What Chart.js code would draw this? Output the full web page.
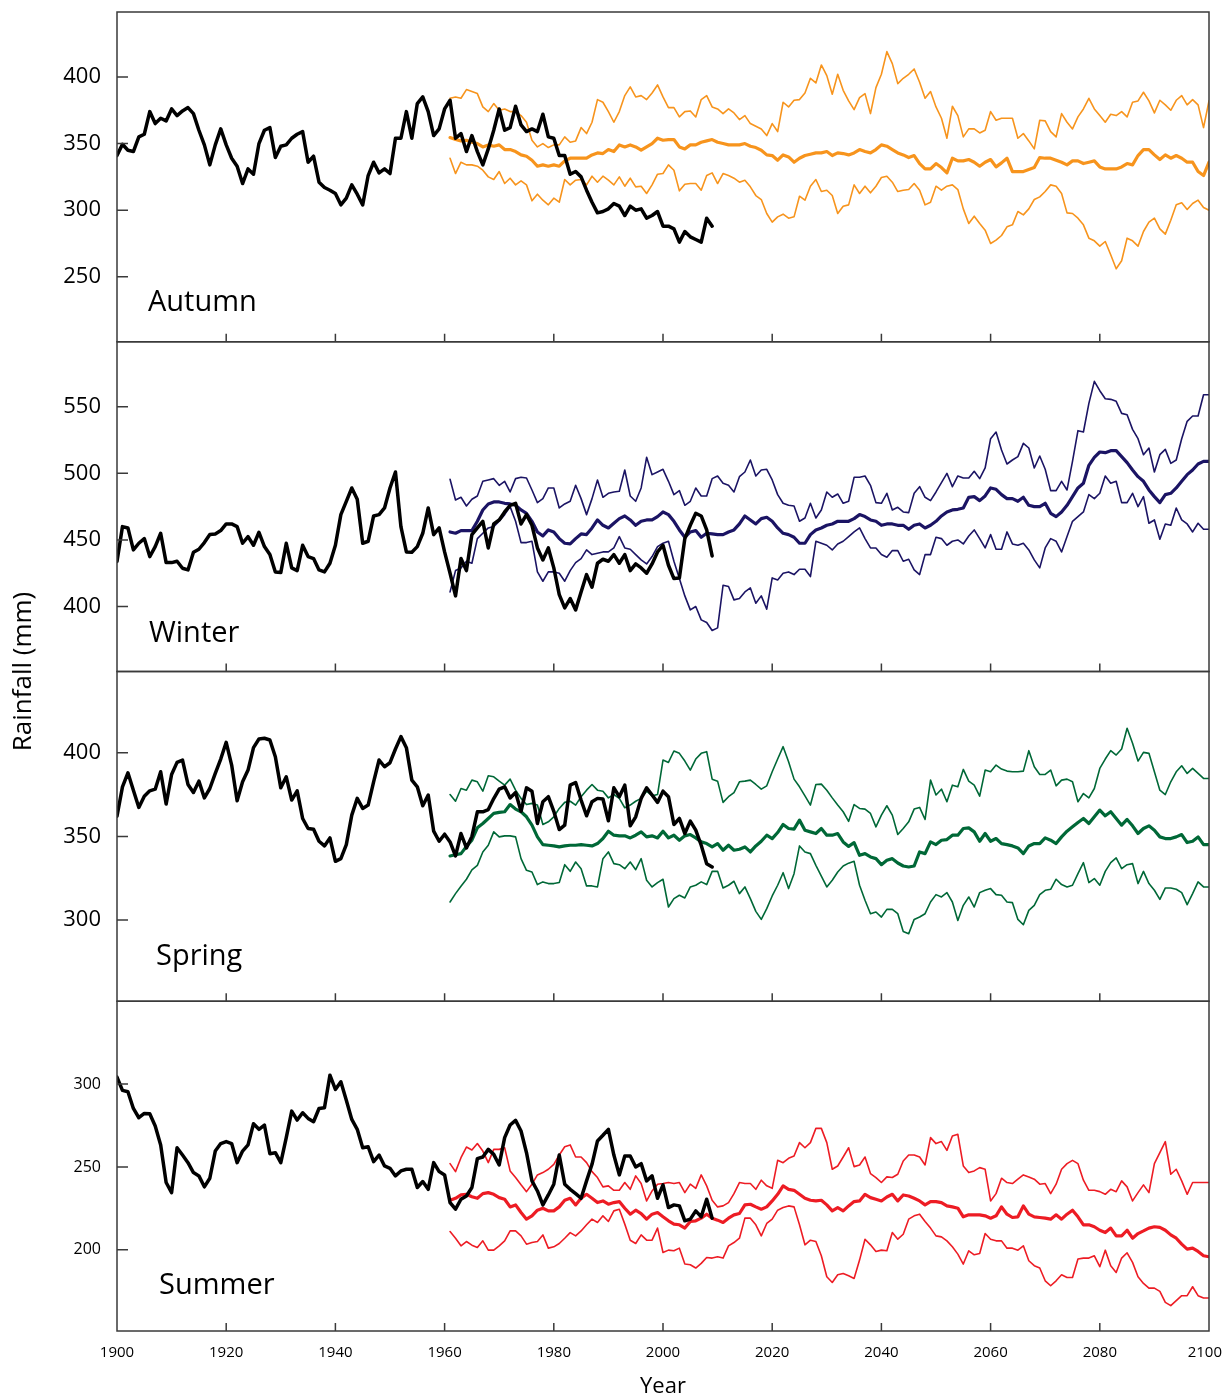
<!DOCTYPE html>
<html>
<head>
<meta charset="utf-8">
<script src="https://cdn.jsdelivr.net/npm/chart.js@4.4.1/dist/chart.umd.min.js"></script>
<style>
  html, body { margin: 0; padding: 0; background: #fff; }
  canvas { display: block; }
</style>
</head>
<body>
<canvas id="rainfall" width="1224" height="1398"></canvas>
<script>
// Seasonal rainfall: observed record (black) and projected range (low / median / high)
const OBS_FIRST_YEAR = 1900;
const PROJ_FIRST_YEAR = 1961;

// ---- Autumn ----
const autumnTicks = [250, 300, 350, 400];
const autumnObs = [
  341, 349.5, 345, 344, 355, 357, 374, 365, 369, 367,
  376, 371, 374.5, 377, 372.5, 360, 349, 334, 349, 361,
  349, 339, 333, 320, 331, 327, 350, 360, 362, 339.5,
  348, 349, 354, 357, 359, 336, 340.5, 321, 317, 315,
  312.5, 304, 309, 319, 312, 304, 326, 336, 328, 331,
  327.5, 354, 354, 374, 354, 380, 385, 374, 356, 361,
  376, 382.5, 354, 357.5, 344, 356, 344, 334, 346, 360,
  376, 360, 362, 378, 364, 359, 361, 359, 372, 355,
  354, 341, 341, 327, 329, 325, 315, 306, 298, 299,
  301, 305, 303, 296, 303, 300, 301, 294, 296, 299,
  288, 288, 286, 276, 284, 280, 278, 276, 294, 288
];
const autumnHigh = [
  384, 385, 384, 390.5, 389, 387.5, 377.5, 374, 380,
  375, 376, 374, 374, 371, 366, 352.5, 347.5, 350, 347,
  349, 349, 355, 351, 352, 362, 357.5, 366, 383, 381,
  374, 366, 374, 386, 392.5, 385, 386, 383, 388, 394,
  385, 377, 377, 370, 374, 374.5, 370, 383, 386, 377.5,
  376, 372.5, 376, 373, 368, 371, 365, 363, 361, 356,
  365, 359, 381, 377.5, 382.5, 383, 388, 399, 395.5, 409,
  401, 387, 402, 390, 382, 375.5, 384.5, 387.5, 372.5, 392,
  402, 419, 410, 395, 399, 402, 406, 396, 384, 389,
  377.5, 369, 354, 378, 371, 355, 361, 361, 358, 360,
  374, 367.5, 369, 369, 369, 354, 357.5, 352, 346, 367.5,
  367, 359, 355, 372.5, 366, 361, 370, 376, 384, 376,
  371, 366, 372, 371, 374, 370, 381, 382, 388.5, 382,
  373, 382.5, 379, 375, 382.5, 386, 379, 383, 379, 362,
  382
];
const autumnMid = [
  354.5, 353, 352, 352.5, 351, 350, 347.5, 349, 348,
  349, 345.5, 345.5, 344, 341.5, 340.5, 337.5, 333, 334, 333,
  334, 333, 337, 339, 339, 339, 339, 341.5, 343, 342.5,
  345.5, 344, 349, 347.5, 349, 347.5, 345, 347.5, 350, 354,
  352.5, 353, 353, 347.5, 346, 349, 349, 351, 352, 353,
  351, 350, 349, 349, 349, 350, 348, 347, 345, 341.5,
  341, 337.5, 341.5, 340, 336, 339, 341, 342, 343, 343,
  344, 341, 343, 342.5, 341.5, 343, 345.5, 344, 343, 345.5,
  349, 348, 345.5, 343, 341.5, 339.5, 341, 335, 331, 331,
  335, 332, 328, 339, 337, 337, 338, 336, 333, 336,
  338, 332.5, 335.5, 339, 329, 329, 329, 330.5, 332, 339.5,
  339, 339, 337.5, 336, 334, 337, 337, 335, 336, 337,
  332.5, 331, 331, 331, 332.5, 335, 334, 341, 345.5, 345.5,
  341.5, 338, 341.5, 339, 341, 339, 336, 336, 329, 326,
  336
];
const autumnLow = [
  339, 327.5, 336, 334, 334, 333, 330, 325, 323,
  329, 320, 324, 319, 322, 319, 307, 312, 307.5, 304,
  309, 306, 323, 319, 322.5, 323, 319, 325.5, 321, 325.5,
  322.5, 319, 325, 318, 324, 317.5, 318, 312.5, 319, 327,
  327.5, 334, 330, 314.5, 319.5, 320, 320, 315, 326, 328,
  320, 327.5, 326, 324, 321, 322.5, 317.5, 311, 308, 297.5,
  291, 295, 297, 294, 295, 310.5, 307.5, 318, 323, 314,
  315, 311, 297.5, 303, 304, 319, 312.5, 318, 313, 318,
  324.5, 325.5, 321, 314, 315, 315.5, 320, 315, 304, 306,
  318, 315, 318, 319, 315.5, 301, 290, 295.5, 290, 285,
  275, 277.5, 281, 287.5, 289, 299, 296.5, 301, 308, 310,
  314, 319, 318, 312.5, 298, 297.5, 294, 289, 279, 277,
  273, 276.5, 266.5, 256, 262, 279, 277, 273, 284, 291,
  294, 286, 282, 292.5, 304, 305.5, 300.5, 305, 307.5, 302,
  300
];

// ---- Winter ----
const winterTicks = [400, 450, 500, 550];
const winterObs = [
  433.75, 460, 459, 442.5, 447.5, 451, 437.5, 445, 455, 433,
  433, 434, 428.75, 427.5, 440.75, 443, 448, 454, 454.5, 457,
  462, 462, 460, 447.5, 452.5, 446, 455.75, 445, 439, 426,
  425.5, 447.5, 429, 427, 446, 437.5, 436, 427.5, 426, 432.5,
  446, 469, 479, 489, 480.5, 447.5, 449, 468, 469, 474,
  489, 501, 460, 441, 440.75, 445, 455, 474, 454, 459,
  441, 425, 408, 436, 427, 454, 459, 464, 444, 462,
  465, 471, 476, 477.5, 462, 469, 461, 444, 435, 444,
  429, 409, 399, 406, 397.5, 411, 424, 414.5, 432.5, 435.5,
  434, 439, 432.5, 439, 427, 432, 429, 425, 432, 441,
  446, 431, 421, 421.5, 451, 461, 470, 468, 457.5, 438
];
const winterHigh = [
  495.5, 480, 482, 475.5, 480.5, 483, 494, 495, 496,
  491, 494, 486, 496, 497, 496.5, 487.5, 478, 481, 489,
  489, 474, 477, 479, 491, 481, 469, 481, 495, 482,
  485, 486, 486.5, 502.5, 483, 479, 489, 512, 499, 501,
  503, 494, 484, 487, 476, 479, 489, 483, 483, 496,
  498, 492.5, 491, 486, 497.5, 501, 510, 498, 502.5, 503,
  495, 484, 477.5, 476, 475.5, 464, 466.5, 477.5, 466.5, 472.5,
  486, 482, 484.5, 477.5, 479, 497, 497, 498, 491, 478,
  477.5, 485, 472.5, 474.5, 471, 470.5, 485, 490, 482, 479.5,
  486, 493, 500, 490, 498, 496.5, 496.5, 501.5, 496, 504,
  526, 531, 517.5, 507, 510, 512.5, 522.5, 519, 504, 513,
  503, 487, 487, 494, 487.5, 509, 532, 531, 552.5, 569,
  562, 556, 555.5, 554, 545, 544, 533, 526, 514, 519,
  501, 514, 518, 507.5, 510, 526, 539, 543, 543, 559,
  559
];
const winterMid = [
  456, 455, 457, 457, 457, 464, 472.5, 477, 478.5,
  478.5, 477.5, 477, 476, 472.5, 470, 464, 456, 453, 457.5,
  456, 451, 447.5, 447, 451, 454.5, 454, 459, 465, 461,
  459, 462.5, 466, 468, 465, 461, 464, 465, 465, 467.5,
  471, 469, 464, 457.5, 452, 456, 457, 452, 455, 454.5,
  454, 454, 456, 457.5, 462, 468, 465, 462, 466, 467,
  464, 459, 455, 454, 452, 447.5, 447.5, 454, 457.5, 459,
  461, 462, 464, 464, 464, 466, 469, 467.5, 465, 464,
  461, 462, 462, 461, 461, 458, 461, 462, 459, 461,
  464, 468, 471, 472.5, 473, 474, 482, 482.5, 479.5, 483,
  489, 488, 484, 481, 481, 479, 482, 476, 475, 475,
  477.5, 470, 467.5, 471, 476, 482.5, 489, 492.5, 506, 512,
  516, 515.5, 517, 517, 512.5, 508, 502.5, 497.5, 494, 487.5,
  482.5, 478, 484, 485, 489, 494, 499, 502.5, 507, 509,
  509
];
const winterLow = [
  411, 427, 429, 434, 432.5, 451, 455, 459, 460,
  464, 469, 475, 464, 448, 448, 449, 426, 419, 426,
  426, 425, 419, 427, 433, 436, 442.5, 439, 440, 441,
  441, 444, 452.5, 444, 443, 439, 435, 432, 437.5, 445,
  447.5, 449, 434, 421, 408, 397.5, 400, 390, 388, 382,
  384, 416, 415, 405, 406, 411, 414, 402.5, 408, 398,
  421.5, 420, 425, 426, 424, 428, 428, 422.5, 449, 447.5,
  446, 442.5, 447, 449, 452.5, 456, 459, 451, 444, 444,
  439, 437, 442, 442, 434, 435.5, 427.5, 424, 439, 439,
  452, 451, 446, 449, 450, 447, 453, 457.5, 451, 444,
  454, 443, 443, 456, 447, 446, 447.5, 442.5, 435, 429,
  444, 451, 449, 441, 452.5, 464, 467.5, 471, 484, 481,
  485, 498, 492.5, 494, 478, 478, 485, 475, 482.5, 462.5,
  465, 450.5, 462, 461, 474, 465, 462, 456, 462.5, 458,
  458
];

// ---- Spring ----
const springTicks = [300, 350, 400];
const springObs = [
  362, 379.6, 388, 377.6, 367.3, 374, 377.2, 378.2, 388.6, 369.3,
  387, 394.2, 395.6, 381, 376.2, 383, 373, 378.6, 387.6, 396.2,
  406.2, 392.6, 371.3, 382.6, 389.6, 403, 408.2, 408.6, 407.6, 397.6,
  379, 385.6, 371.7, 377.2, 360.7, 354.7, 354.3, 347.1, 344.3, 349.1,
  335.1, 336.7, 345.1, 362.7, 372.7, 366.7, 368.7, 382.6, 395.6, 391.6,
  394, 402.2, 409.6, 403, 383.6, 379.6, 368.3, 374.7, 353.1, 347.1,
  351.3, 346.7, 338.3, 351.7, 343.1, 350, 364.7, 364.7, 366, 372.6,
  378.2, 379.6, 373, 376.2, 365, 379, 377, 357.7, 370.7, 373.7,
  365, 354.1, 356.7, 380.6, 382.2, 371.7, 362.3, 370.7, 372.7, 372.3,
  359.3, 379, 373.7, 380.6, 356.3, 361.7, 372.7, 379, 374.7, 370.3,
  377, 373.7, 357.1, 360.7, 351.7, 359.1, 353.7, 344.7, 333.7, 331.7
];
const springHigh = [
  375, 371, 378.6, 377.6, 383.6, 382.6, 377, 386.2, 385.6,
  383, 380.6, 384.2, 377.6, 372.7, 369, 369.7, 368.7, 357.1, 358.7,
  361.7, 366.7, 370.3, 371, 368.7, 373.7, 377.6, 381, 377.6, 377,
  373, 375, 372.7, 367.1, 368.7, 371, 372.7, 377, 374.2, 375,
  395.6, 394.2, 401, 399.6, 395, 389.6, 396.2, 399.6, 400.6, 384.2,
  383, 370.3, 373.7, 376.2, 382.6, 383, 383.6, 381, 378.2, 380.2,
  388.6, 396.2, 403.6, 394.6, 384.2, 379.6, 374.2, 368.7, 381, 381.2,
  377.6, 373, 368.7, 364.7, 359, 369, 366.7, 366.3, 363.7, 355.7,
  362.7, 368.3, 362.7, 351.1, 354.7, 358.7, 366.3, 367.3, 360.1, 383.6,
  374.7, 378.2, 370.7, 380.6, 379.6, 390, 383, 380.6, 374, 389.6,
  388.6, 392.6, 390.2, 389, 388.6, 388.6, 389, 401.2, 391.6, 387,
  387, 389.6, 380.2, 383.6, 384.2, 382.6, 370.7, 375.6, 373, 378.6,
  390.6, 396.2, 401.2, 398.6, 402.2, 414.6, 405.6, 395, 400.2, 399.6,
  388.6, 377.6, 375, 382.6, 388.6, 392.2, 387.6, 390.6, 387.6, 384.6,
  384.6
];
const springMid = [
  338.3, 339, 339.7, 344, 347.7, 355.1, 357.7, 360.7, 363.7,
  364.3, 364.7, 369, 366.3, 364.7, 361.7, 356.7, 349.7, 345.1, 344.7,
  344.3, 343.7, 344.3, 344.7, 344.7, 345.1, 344.7, 344.3, 345.7, 348.7,
  353.1, 350.7, 350.3, 350.3, 349.1, 350.7, 352.7, 349.7, 350.3, 349.1,
  353.1, 349.1, 350.7, 347.7, 350.3, 351.1, 349.1, 346.7, 345.7, 343.7,
  345.7, 341.7, 344.7, 341.7, 342.3, 343.7, 340.7, 344.3, 347.1, 350.7,
  348.7, 352.3, 357.1, 354.7, 354.3, 359.7, 353.7, 352.7, 351.7, 354.7,
  350.7, 350.7, 351.7, 346.7, 344, 346.3, 338.7, 339.7, 337.7, 336.7,
  333.1, 335.7, 336.7, 334.1, 332.3, 331.7, 332.3, 340.7, 339.7, 346.7,
  345.1, 347.7, 348.1, 350.7, 350.7, 354.7, 355.1, 352.7, 347.1, 351.7,
  347.1, 348.7, 345.7, 345.1, 344.3, 343.1, 339.7, 344.3, 345.7, 345.7,
  349.1, 347.7, 345.7, 349.7, 353.1, 355.7, 358.3, 360.7, 357.7, 361.7,
  365.7, 362.3, 364.7, 360.7, 356.7, 360.1, 356.3, 351.7, 354.7, 356.3,
  353.7, 349.7, 348.7, 348.7, 349.7, 351.1, 346.3, 347.1, 349.7, 345.1,
  345.1
];
const springLow = [
  310.8, 315.8, 320.2, 324.4, 330, 332.7, 340.7, 344.7, 352.7,
  349.7, 350.3, 350.3, 349.7, 336.7, 329.7, 328.7, 321.2, 322.8, 321.8,
  321.8, 322.4, 333.1, 329.1, 334.7, 330.7, 320.4, 320.4, 319.8, 336.7,
  340.7, 333.7, 333.1, 330.7, 334.7, 330.1, 336.7, 323.8, 319.8, 322.4,
  324.4, 307.8, 312.8, 314.8, 313.2, 319.8, 320.8, 322.8, 321.2, 329.1,
  329.1, 319.2, 320.8, 323.2, 315.8, 319.8, 312.8, 305.2, 300.4, 306.8,
  314.4, 320.8, 328.3, 318.8, 327.7, 344.3, 340.7, 339.7, 332.7, 326.3,
  319.8, 323.8, 328.7, 332.3, 334, 335.1, 320.8, 311.8, 303.8, 304.8,
  301.8, 306.4, 306.4, 303.8, 293.2, 291.8, 300.4, 301.8, 303.8, 310.8,
  315.2, 313.8, 316.4, 310.8, 299.8, 308.8, 313.8, 307.8, 316.4, 317.8,
  318.8, 315.2, 314.8, 310.8, 310.4, 300.4, 297.2, 305.8, 308.8, 315.2,
  317.8, 318.4, 324.4, 321.2, 319.8, 320.8, 327.7, 334.3, 322.4, 324.8,
  320.8, 329.1, 334.3, 337.1, 330.7, 333.1, 333.7, 321.8, 329.1, 321.8,
  317.8, 312.4, 319.2, 319.2, 318.4, 316.4, 309.2, 315.8, 322.8, 319.8,
  319.8
];

// ---- Summer ----
const summerTicks = [200, 250, 300];
const summerObs = [
  304.2, 296.2, 295.4, 285.3, 279.7, 282.3, 282.1, 274.7, 263.3, 240.6,
  234.5, 261.6, 257.2, 252.6, 246.6, 244.6, 238, 243.2, 259.6, 264.1,
  265.3, 264.1, 252.6, 259.6, 263.3, 276.1, 272.7, 275.3, 258, 258.6,
  252.6, 267.7, 283.7, 278.3, 282.7, 279.3, 277.3, 285.3, 285.7, 305.4,
  296.8, 301.4, 290.2, 278.7, 272.7, 261.6, 262.2, 253.2, 257.2, 250.6,
  249.2, 244.6, 247.6, 248.6, 248.6, 237.6, 241.2, 236.5, 252.6, 247.2,
  245.2, 228.5, 224.5, 230.5, 232.5, 237.6, 255, 256, 260.6, 257.6,
  251.2, 267.7, 275.3, 278.1, 271.7, 258.6, 241.6, 235.5, 227.1, 233.1,
  239.6, 257.2, 239.6, 236.5, 233.9, 231.1, 241.6, 251.6, 265.7, 269.1,
  272.7, 257.2, 245.2, 256.6, 256.6, 250, 252, 241.6, 244.6, 231.1,
  239.2, 225.5, 227.1, 226.5, 217.5, 218.5, 223.5, 219.9, 230.5, 219.1
];
const summerHigh = [
  252, 247.2, 255.6, 262, 260.2, 264.1, 259.6, 252.6, 260.6,
  260.6, 261.6, 247.6, 243.6, 239.2, 235.1, 239.6, 245.2, 246.6, 248.6,
  251.6, 257.2, 262.2, 263.3, 256, 256, 252.6, 247.2, 243.6, 238,
  238.6, 235.9, 235.9, 240.6, 236.5, 244.6, 240, 229.5, 235.5, 239.6,
  240, 240.6, 240, 240.6, 234.5, 239.6, 237.1, 245.2, 238.6, 229.9,
  225.9, 226.5, 228.5, 233.9, 240.6, 240, 240, 236.5, 242, 238.6,
  237.1, 254, 252.6, 255.2, 256.6, 264.7, 261.6, 264.7, 273.3, 273.3,
  264.7, 248.6, 250.6, 256, 261.6, 250.2, 251.2, 256, 246, 243.6,
  240.6, 244, 243.6, 245.6, 253.6, 257.2, 257.2, 256, 251.2, 267.7,
  264.1, 265.3, 260, 268.7, 269.7, 250.6, 246.6, 247.6, 249.6, 248.6,
  229.5, 233.9, 243.2, 240.6, 240, 242.6, 245.2, 244, 242.6, 239.6,
  240, 233.9, 239.6, 248.6, 252, 254, 252, 242, 235.9, 235.9,
  235.1, 233.5, 236.5, 235.1, 241.6, 238, 229.5, 234.5, 239.2, 234.5,
  252, 258.6, 265.3, 245.6, 248.6, 241.6, 233.5, 240.6, 240.6, 240.6,
  240.6
];
const summerMid = [
  229.9, 231.1, 233.1, 233.5, 232, 231.1, 233.9, 234.5, 233.5,
  231.5, 230.5, 225.9, 227.1, 222.5, 218.5, 220.5, 223.9, 225.1, 223.5,
  223.5, 225.9, 229.9, 231.1, 227.1, 231.1, 233.5, 231.1, 228.5, 229.5,
  227.5, 228.5, 229.1, 225.1, 221.5, 223.9, 221.9, 218.5, 221.5, 222.5,
  219.9, 217.5, 215.5, 215.1, 213.1, 217.1, 217.5, 219.1, 221.5, 219.1,
  217.9, 216.5, 219.1, 221.1, 221.9, 227.1, 227.5, 225.9, 224.5, 225.9,
  229.5, 233.5, 238.6, 236.5, 235.9, 233.5, 231.1, 229.9, 229.5, 229.9,
  227.1, 223.5, 225.5, 223.5, 226.5, 229.1, 229.5, 233.5, 231.5, 230.5,
  229.5, 231.9, 233.5, 229.5, 233.1, 232.5, 231.1, 229.5, 227.1, 229.1,
  229.1, 228.5, 226.5, 225.9, 225.1, 219.9, 221.1, 221.1, 221.1, 220.5,
  219.1, 220.5, 225.9, 221.5, 219.5, 219.9, 226.5, 221.5, 219.9, 219.5,
  219.1, 218.5, 221.1, 218.5, 221.5, 223.9, 219.9, 215.1, 215.1, 213.9,
  211.8, 210.4, 213.1, 208.4, 208.4, 211.8, 207, 209.8, 211.4, 213.1,
  213.9, 213.5, 211.8, 209, 207, 203.4, 200.4, 201, 199, 196.4,
  195.8
];
const summerLow = [
  211, 207, 202.4, 205, 202.8, 201.4, 205.4, 199.8, 199.8,
  202.4, 205.4, 211.4, 211.4, 208.4, 203.4, 204.4, 205, 209, 201,
  201.8, 203.8, 207, 210.4, 208.4, 211.4, 215.1, 218.5, 216.5, 220.5,
  217.1, 223.5, 224.5, 215.5, 205.8, 203.8, 209, 205.8, 205.8, 213.1,
  198.4, 199.8, 199.4, 201, 191.4, 191, 189, 191.8, 195.4, 195,
  195.8, 195, 202.4, 204.4, 207, 219.1, 219.1, 215.1, 208.4, 215.9,
  218.5, 223.9, 225.5, 226.5, 225.9, 215.1, 203, 205.8, 205, 196.4,
  183.7, 180.3, 184.9, 185.7, 184.3, 182.7, 193.8, 206.4, 203, 199,
  199.8, 199.4, 210.4, 206.4, 209.4, 218.5, 220.5, 221.5, 217.1, 213.1,
  208.4, 207.8, 205.4, 201.8, 197.4, 191.4, 199.4, 197, 197.8, 209.8,
  206.4, 205.4, 205.4, 201, 201, 199.8, 202.4, 193.4, 190.4, 189,
  181.3, 178.3, 181.3, 184.9, 183.3, 183.3, 194.4, 195, 195, 196.4,
  189.8, 199.8, 190.4, 186.3, 195, 198.2, 192.4, 183.7, 179.7, 176.9,
  176.9, 174.9, 168.3, 166.3, 169.3, 172.3, 172.3, 177.7, 172.3, 170.9,
  170.9
];

const yearTicks = [1900, 1920, 1940, 1960, 1980, 2000, 2020, 2040, 2060, 2080, 2100];

const FONT = "'Open Sans', 'Noto Sans', sans-serif";
Chart.defaults.font.family = FONT;
Chart.defaults.color = '#000';

// one panel per season, stacked top to bottom (higher weight sits higher)
const panels = [
  { id: 'yAutumn', name: 'Autumn', color: '#F7941D', obs: autumnObs, high: autumnHigh, mid: autumnMid, low: autumnLow,
    ticks: autumnTicks, min: 201.25, max: 448.75, tickFont: 22, weight: 4, nameOffset: [31, 31] },
  { id: 'yWinter', name: 'Winter', color: '#1B1464', obs: winterObs, high: winterHigh, mid: winterMid, low: winterLow,
    ticks: winterTicks, min: 351.25, max: 598.75, tickFont: 22, weight: 3, nameOffset: [32, 30] },
  { id: 'ySpring', name: 'Spring', color: '#006837', obs: springObs, high: springHigh, mid: springMid, low: springLow,
    ticks: springTicks, min: 251.5, max: 448.5, tickFont: 22, weight: 2, nameOffset: [39, 36] },
  { id: 'ySummer', name: 'Summer', color: '#ED1C24', obs: summerObs, high: summerHigh, mid: summerMid, low: summerLow,
    ticks: summerTicks, min: 151, max: 350, tickFont: 16, weight: 1, nameOffset: [42, 37] }
];

const toPoints = (firstYear, values) => values.map((v, i) => ({ x: firstYear + i, y: v }));

const lineStyle = { pointRadius: 0, tension: 0, fill: false, borderJoinStyle: 'round', borderCapStyle: 'round' };

const datasets = [];
panels.forEach(p => {
  datasets.push({ ...lineStyle, label: p.name + ' observed', data: toPoints(OBS_FIRST_YEAR, p.obs),
    yAxisID: p.id, borderColor: '#000', borderWidth: 3.5, order: 0 });
  datasets.push({ ...lineStyle, label: p.name + ' median', data: toPoints(PROJ_FIRST_YEAR, p.mid),
    yAxisID: p.id, borderColor: p.color, borderWidth: 3.2, order: 1 });
  datasets.push({ ...lineStyle, label: p.name + ' high', data: toPoints(PROJ_FIRST_YEAR, p.high),
    yAxisID: p.id, borderColor: p.color, borderWidth: 1.6, order: 2 });
  datasets.push({ ...lineStyle, label: p.name + ' low', data: toPoints(PROJ_FIRST_YEAR, p.low),
    yAxisID: p.id, borderColor: p.color, borderWidth: 1.6, order: 2 });
});

const scales = {
  x: {
    type: 'linear', position: 'bottom', min: 1900, max: 2100,
    grid: { display: false, drawTicks: false },
    border: { display: false },
    // labels are painted by panelFrames so the last one stays inside the canvas
    ticks: { display: false },
    afterBuildTicks: s => { s.ticks = yearTicks.map(v => ({ value: v })); },
    title: { display: true, text: 'Year', font: { size: 22, lineHeight: 1 }, padding: { top: 0, bottom: 0 } },
    afterFit: s => { s.height = 67; s.paddingLeft = 0; s.paddingRight = 0; }
  }
};
panels.forEach(p => {
  scales[p.id] = {
    type: 'linear', position: 'left', stack: 'seasons', stackWeight: 1, weight: p.weight,
    min: p.min, max: p.max,
    grid: { display: false, drawTicks: false },
    border: { display: false },
    ticks: { padding: 16, font: { size: p.tickFont }, callback: v => String(v) },
    afterBuildTicks: s => { s.ticks = p.ticks.map(v => ({ value: v })); },
    afterFit: s => { s.width = 117; s.paddingTop = 0; s.paddingBottom = 0; }
  };
});

// panel frames, inward tick marks, year labels, season names and the shared y title
const panelFrames = {
  id: 'panelFrames',
  afterDatasetsDraw(chart) {
    const { ctx, chartArea } = chart;
    const xScale = chart.scales.x;
    const left = chartArea.left, right = chartArea.right;
    ctx.save();
    ctx.strokeStyle = '#3a3a3a';
    ctx.lineWidth = 1.5;
    panels.forEach(p => {
      const s = chart.scales[p.id];
      ctx.strokeRect(left, s.top, right - left, s.bottom - s.top);
      ctx.beginPath();
      s.ticks.forEach(t => {
        const y = s.getPixelForValue(t.value);
        ctx.moveTo(left, y);
        ctx.lineTo(left + 11, y);
      });
      xScale.ticks.forEach(t => {
        if (t.value <= xScale.min || t.value >= xScale.max) return;
        const x = xScale.getPixelForValue(t.value);
        ctx.moveTo(x, s.bottom);
        ctx.lineTo(x, s.bottom - 8);
      });
      ctx.stroke();

      ctx.fillStyle = '#000';
      ctx.font = '29px ' + FONT;
      ctx.textAlign = 'left';
      ctx.textBaseline = 'alphabetic';
      ctx.fillText(p.name, left + p.nameOffset[0], s.bottom - p.nameOffset[1]);
    });

    ctx.font = '15px ' + FONT;
    ctx.textAlign = 'center';
    ctx.textBaseline = 'middle';
    xScale.ticks.forEach(t => {
      const label = String(t.value);
      const half = ctx.measureText(label).width / 2;
      const x = Math.min(xScale.getPixelForValue(t.value), chart.width - 2 - half);
      ctx.fillText(label, x, chartArea.bottom + 22);
    });

    ctx.translate(24, (chartArea.top + chartArea.bottom) / 2);
    ctx.rotate(-Math.PI / 2);
    ctx.font = '26px ' + FONT;
    ctx.fillText('Rainfall (mm)', 0, 0);
    ctx.restore();
  }
};

new Chart(document.getElementById('rainfall'), {
  type: 'line',
  data: { datasets },
  options: {
    responsive: false,
    animation: false,
    devicePixelRatio: 1,
    layout: { padding: { top: 12, right: 15, bottom: 0, left: 0 } },
    plugins: { legend: { display: false }, tooltip: { enabled: false } },
    scales
  },
  plugins: [panelFrames]
});
</script>
</body>
</html>
